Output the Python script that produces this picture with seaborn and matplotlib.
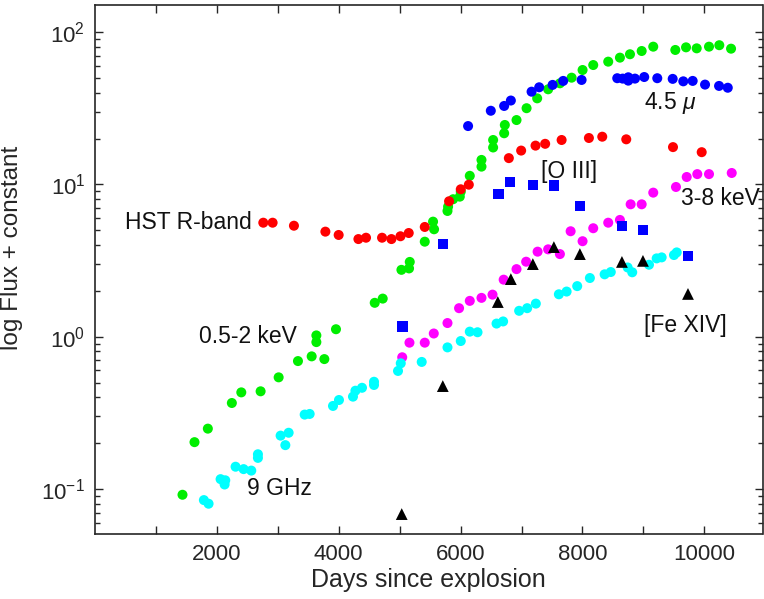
import matplotlib
matplotlib.use("Agg")
import matplotlib.pyplot as plt
import matplotlib.ticker as mticker
import seaborn as sns
import pandas as pd

# ---------------- data ----------------
hst_days = [2762, 2915, 3265, 3781, 3999, 4323, 4448, 4711, 4865, 5013, 5149, 5412,
            5811, 6003, 6135, 6792, 6994, 7230, 7388, 7658, 8106, 8325, 8719, 9486, 9957]
hst_flux = [5.61, 5.61, 5.36, 4.90, 4.66, 4.38, 4.47, 4.47, 4.38, 4.57, 4.80, 5.26,
            7.76, 9.30, 9.97, 14.9, 16.7, 18.0, 18.5, 19.6, 20.2, 20.6, 19.8, 17.6, 16.3]

soft_days = [1436, 1633, 1852, 2246, 2401, 2718, 3014, 3331, 3556, 3633, 3633, 3764,
             3955, 4591, 4722, 5029, 5154, 5166, 5412, 5565, 5548, 5785, 5795, 5877,
             5987, 6003, 6151, 6343, 6343, 6534, 6534, 6715, 6726, 6918, 7083, 7257,
             7437, 7630, 7822, 8002, 8177, 8423, 8615, 8780, 8972, 9162, 9524, 9700,
             9875, 10077, 10246, 10439]
soft_flux = [0.0916, 0.203, 0.249, 0.367, 0.431, 0.438, 0.541, 0.692, 0.743, 1.02, 0.922, 0.713,
             1.12, 1.67, 1.78, 2.75, 2.81, 3.10, 4.21, 5.08, 5.70, 6.70, 7.15, 8.00,
             8.32, 8.97, 11.4, 13.1, 14.5, 17.5, 19.6, 21.7, 24.6, 26.5, 31.7, 36.8,
             42.2, 46.2, 50.3, 56.5, 60.9, 64.1, 68.1, 71.7, 75.3, 80.4, 76.5, 79.6,
             78.4, 80.4, 82.2, 78.0]

ir_days = [6123, 6496, 6715, 6825, 7165, 7290, 7510, 7684, 7986, 8571, 8660, 8752,
           8752, 8862, 9014, 9228, 9481, 9655, 9809, 10012, 10242, 10385]
ir_flux = [24.2, 30.5, 32.8, 35.6, 40.7, 43.5, 45.1, 47.9, 48.6, 49.9, 49.6, 50.6,
           48.1, 49.6, 50.8, 49.9, 49.4, 47.6, 47.9, 45.3, 44.4, 43.2]

oiii_days = [5046, 5713, 6623, 6813, 7191, 7531, 7958, 8648, 8993, 9732]
oiii_flux = [1.17, 4.06, 8.66, 10.4, 9.93, 9.88, 7.22, 5.34, 5.02, 3.40]

fexiv_days = [5034, 5708, 6611, 6825, 7186, 7531, 7958, 8648, 8993, 9732]
fexiv_flux = [0.0684, 0.474, 1.69, 2.39, 3.00, 3.88, 3.49, 3.10, 3.15, 1.91]

hard_days = [5042, 5161, 5412, 5560, 5785, 5975, 6151, 6343, 6524, 6707, 6918, 7076,
             7264, 7437, 7630, 7806, 8002, 8177, 8423, 8615, 8791, 8972, 9162, 9535,
             9711, 9885, 10077, 10450]
hard_flux = [0.733, 0.914, 0.914, 1.05, 1.23, 1.54, 1.72, 1.80, 1.89, 2.37, 2.78, 3.11,
             3.62, 3.75, 3.49, 4.93, 4.24, 5.16, 5.61, 5.85, 7.41, 7.41, 8.84, 9.63,
             11.2, 11.7, 11.7, 11.9]

radio_days = [1787, 1864, 2061, 2127, 2138, 2307, 2439, 2565, 2674, 2674, 3046, 3178,
              3124, 3441, 3523, 3906, 4004, 4234, 4274, 4382, 4579, 4579, 4973, 5018,
              5362, 5785, 6003, 6151, 6278, 6590, 6698, 6961, 7093, 7235, 7613, 7740,
              7914, 8122, 8364, 8465, 8742, 8817, 9092, 9218, 9300, 9502, 9547]
radio_flux = [0.0845, 0.080, 0.116, 0.107, 0.114, 0.140, 0.135, 0.132, 0.169, 0.160, 0.224, 0.234,
              0.194, 0.308, 0.311, 0.351, 0.384, 0.404, 0.442, 0.462, 0.506, 0.482, 0.596, 0.669,
              0.683, 0.851, 0.937, 1.08, 1.07, 1.22, 1.26, 1.48, 1.54, 1.65, 1.90, 1.98,
              2.15, 2.43, 2.57, 2.66, 2.85, 2.65, 2.97, 3.27, 3.32, 3.44, 3.58]

x_ticks = [1000, 2000, 3000, 4000, 5000, 6000, 7000, 8000, 9000, 10000]
x_ticklabels = ["", "2000", "", "4000", "", "6000", "", "8000", "", "10000"]
y_ticks = [0.1, 1, 10, 100]
y_ticklabels = [r"$\mathregular{10^{-1}}$", r"$\mathregular{10^{0}}$",
                r"$\mathregular{10^{1}}$", r"$\mathregular{10^{2}}$"]

# ---------------- style ----------------
sns.set_style("ticks")
plt.rcParams["font.family"] = ["Liberation Sans", "DejaVu Sans"]
plt.rcParams["mathtext.fontset"] = "custom"
plt.rcParams["mathtext.rm"] = "Liberation Sans"
plt.rcParams["mathtext.it"] = "Liberation Sans:italic"

fig = plt.figure(figsize=(7.64, 5.99), dpi=100)
ax = fig.add_axes([95 / 764, 65 / 599, 667.5 / 764, 529 / 599])

def scat(days, flux, color, marker, s):
    df = pd.DataFrame({"day": days, "flux": flux})
    sns.scatterplot(data=df, x="day", y="flux", ax=ax, color=color, marker=marker,
                    s=s, edgecolor="none", linewidth=0, legend=False, zorder=3)

scat(soft_days, soft_flux, "#00ee00", "o", 52)
scat(ir_days, ir_flux, "#0000ff", "o", 52)
scat(hst_days, hst_flux, "#ff0000", "o", 52)
scat(hard_days, hard_flux, "#ff00ff", "o", 52)
scat(radio_days, radio_flux, "#00ffff", "o", 52)
scat(oiii_days, oiii_flux, "#0000ff", "s", 58)
scat(fexiv_days, fexiv_flux, "#000000", "^", 72)

ax.set_yscale("log")
ax.set_xlim(0, 10955)
ax.set_ylim(0.0506, 151)

ax.set_xticks(x_ticks)
ax.set_xticklabels(x_ticklabels)
ax.set_yticks(y_ticks)
ax.set_yticklabels(y_ticklabels)
ax.yaxis.set_minor_locator(mticker.LogLocator(base=10, subs=range(2, 10), numticks=20))
ax.yaxis.set_minor_formatter(mticker.NullFormatter())

ax.tick_params(axis="both", which="major", direction="in", length=6, width=1,
               top=True, right=True, labelsize=16, colors="#262626", pad=7)
ax.tick_params(axis="y", which="minor", direction="in", length=3.5, width=1,
               left=True, right=True, colors="#262626")
ax.tick_params(axis="x", which="minor", bottom=False, top=False)
for sp in ax.spines.values():
    sp.set_linewidth(1.2)
    sp.set_color("#262626")
    sp.set_visible(True)

ax.set_xlabel("Days since explosion", fontsize=18, color="#262626", labelpad=2)
ax.set_ylabel("log Flux + constant", fontsize=17.5, color="#262626")
ax.yaxis.set_label_coords(-0.108, 0.54)

tkw = dict(fontsize=16.5, color="#111111", va="center", zorder=4)
ax.text(2570, 5.61, "HST R-band", ha="right", **tkw)
ax.text(9013, 34.1, r"4.5 $\mu$", ha="left", **tkw)
ax.text(7313, 12.1, "[O III]", ha="left", **tkw)
ax.text(9617, 8.11, "3-8 keV", ha="left", clip_on=False, **tkw)
ax.text(1699, 1.01, "0.5-2 keV", ha="left", **tkw)
ax.text(2499, 0.100, "9 GHz", ha="left", **tkw)
ax.text(9014, 1.19, "[Fe XIV]", ha="left", **tkw)

fig.savefig("out.png", dpi=100)
